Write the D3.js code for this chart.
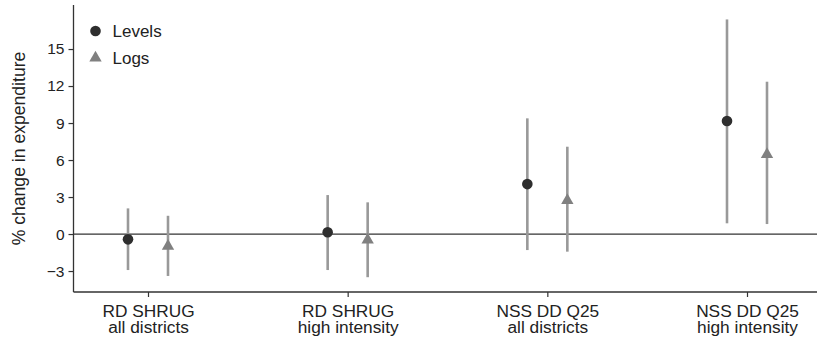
<!DOCTYPE html>
<html><head><meta charset="utf-8">
<script src="https://cdn.jsdelivr.net/npm/d3@7"></script>
<style>body{margin:0;background:#fff}svg{display:block;font-family:"Liberation Sans",Arial,sans-serif}</style>
</head><body><svg id="c" width="817" height="341"></svg>
<script>
const categories = [["RD SHRUG","all districts"],["RD SHRUG","high intensity"],["NSS DD Q25","all districts"],["NSS DD Q25","high intensity"]];
const levelsEst = [-0.43, 0.14, 4.05, 9.16];
const levelsLo  = [-2.92, -2.92, -1.3, 0.87];
const levelsHi  = [2.08, 3.16, 9.38, 17.4];
const logsEst = [-0.9, -0.4, 2.81, 6.54];
const logsLo  = [-3.4, -3.5, -1.43, 0.81];
const logsHi  = [1.48, 2.57, 7.08, 12.35];
const yTicks = [-3, 0, 3, 6, 9, 12, 15];
const seriesNames = ["Levels", "Logs"];

(function () {
const svg = d3.select("#c");
const mLeft = 73.5, mRight = 817, mTop = 5, mBottom = 292;
const y = d3.scaleLinear().domain([-4.7, 18.57]).range([mBottom, mTop]);
const x = d3.scalePoint().domain(d3.range(categories.length)).range([148, 747]);
const off = 20;
const FF = "Liberation Sans, Arial, sans-serif";

// y axis
const yAxis = d3.axisLeft(y).tickValues(yTicks).tickSize(5).tickPadding(4)
  .tickFormat(d => d < 0 ? "\u2212" + Math.abs(d) : String(d));
const gy = svg.append("g").attr("transform", `translate(${mLeft},0)`).call(yAxis);
gy.select(".domain").attr("d", `M0,${mTop}V${mBottom}`).attr("stroke", "#333").attr("stroke-width", 1.3);
gy.selectAll(".tick line").attr("stroke", "#333").attr("stroke-width", 1.2);
gy.selectAll(".tick text").attr("font-size", 15.5).attr("fill", "#222").attr("font-family", FF);

// x axis
const xAxis = d3.axisBottom(x).tickSize(5).tickFormat("");
const gx = svg.append("g").attr("transform", `translate(0,${mBottom})`).call(xAxis);
gx.select(".domain").attr("d", `M${mLeft},0H${mRight}`).attr("stroke", "#333").attr("stroke-width", 1.3);
gx.selectAll(".tick line").attr("stroke", "#333").attr("stroke-width", 1.2);
gx.selectAll(".tick").each(function(d) {
  const t = d3.select(this).append("text").attr("text-anchor", "middle").attr("fill", "#222")
    .attr("font-size", 17.3).attr("font-family", FF);
  t.append("tspan").attr("x", 0).attr("y", 24.5).text(categories[d][0]);
  t.append("tspan").attr("x", 0).attr("y", 41).text(categories[d][1]);
});

// zero line
svg.append("line").attr("x1", mLeft).attr("x2", mRight).attr("y1", y(0)).attr("y2", y(0))
  .attr("stroke", "#333").attr("stroke-width", 1.3);

// y title
svg.append("text").attr("transform", `translate(25,${(mTop + mBottom) / 2}) rotate(-90)`)
  .attr("text-anchor", "middle").attr("font-size", 17.6).attr("fill", "#222")
  .text("% change in expenditure");

const ciColor = "#999", lvlColor = "#2e2e2e", logColor = "#808080";
const tri = d3.symbol().type(d3.symbolTriangle).size(66);

const idx = d3.range(categories.length);
svg.selectAll(".ciL").data(idx).enter().append("line")
  .attr("x1", i => x(i) - off).attr("x2", i => x(i) - off)
  .attr("y1", i => y(levelsLo[i])).attr("y2", i => y(levelsHi[i]))
  .attr("stroke", ciColor).attr("stroke-width", 2.6);
svg.selectAll(".ciG").data(idx).enter().append("line")
  .attr("x1", i => x(i) + off).attr("x2", i => x(i) + off)
  .attr("y1", i => y(logsLo[i])).attr("y2", i => y(logsHi[i]))
  .attr("stroke", ciColor).attr("stroke-width", 2.6);
svg.selectAll(".ptL").data(idx).enter().append("circle")
  .attr("cx", i => x(i) - off).attr("cy", i => y(levelsEst[i])).attr("r", 5.3).attr("fill", lvlColor);
svg.selectAll(".ptG").data(idx).enter().append("path")
  .attr("d", tri).attr("transform", i => `translate(${x(i) + off},${y(logsEst[i]) + 1})`).attr("fill", logColor);

// legend
const lg = svg.append("g");
lg.append("circle").attr("cx", 95.5).attr("cy", 31).attr("r", 5.3).attr("fill", lvlColor);
lg.append("text").attr("x", 112.5).attr("y", 37).attr("font-size", 17).attr("fill", "#222").text(seriesNames[0]);
lg.append("path").attr("d", tri).attr("transform", "translate(95.5,58)").attr("fill", logColor);
lg.append("text").attr("x", 112.5).attr("y", 63.5).attr("font-size", 17).attr("fill", "#222").text(seriesNames[1]);
})();
</script></body></html>
